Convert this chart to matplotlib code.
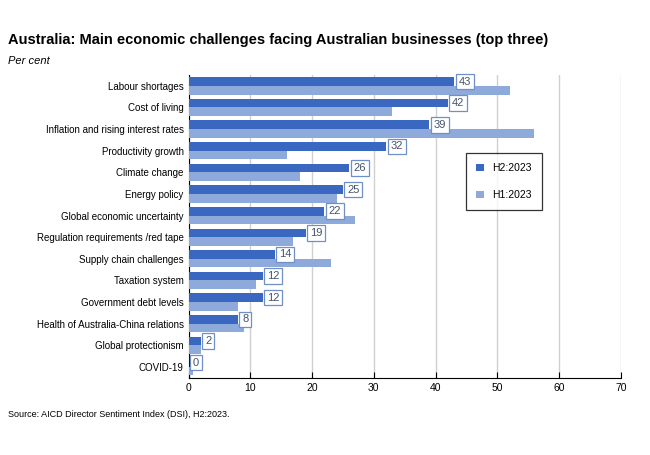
import matplotlib.pyplot as plt
import numpy as np

plt.rcParams["font.family"] = "Liberation Sans"

categories = ["Labour shortages", "Cost of living", "Inflation and rising interest rates",
              "Productivity growth", "Climate change", "Energy policy",
              "Global economic uncertainty", "Regulation requirements /red tape",
              "Supply chain challenges", "Taxation system", "Government debt levels",
              "Health of Australia-China relations", "Global protectionism", "COVID-19"]
h2_2023 = [43, 42, 39, 32, 26, 25, 22, 19, 14, 12, 12, 8, 2, 0]
h1_2023 = [52, 33, 56, 16, 18, 24, 27, 17, 23, 11, 8, 9, 2, 0.8]

dark = "#3a68c0"
light = "#8eaadb"

fig = plt.figure(figsize=(6.5, 4.55), dpi=100)
ax = fig.add_axes([0.29, 0.17, 0.665, 0.665])

y = np.arange(len(categories))
bh = 0.4
ax.barh(y - bh / 2, h2_2023, height=bh, color=dark, label="H2:2023", zorder=3)
ax.barh(y + bh / 2, h1_2023, height=bh, color=light, label="H1:2023", zorder=3)

for yi, v in zip(y, h2_2023):
    ax.text(v + 0.7, yi - bh / 2, str(v), va="center", ha="left", fontsize=8, color="#44546a",
            bbox=dict(boxstyle="square,pad=0.25", fc="white", ec="#6f8fc8", lw=0.9), zorder=4)

ax.set_ylim(len(categories) - 0.5, -0.5)
ax.set_xlim(0, 70)
ax.set_xticks(range(0, 71, 10))
ax.set_yticks(y)
ax.set_yticklabels(categories, fontsize=7)
ax.tick_params(axis="x", labelsize=7.5, direction="in", length=4)
ax.tick_params(axis="y", direction="in", length=3)
ax.xaxis.grid(True, color="#d0d0d0", lw=1, zorder=0)
for s in ["top", "right"]:
    ax.spines[s].set_visible(False)
ax.spines["left"].set_color("black")
ax.spines["bottom"].set_color("black")

leg = ax.legend(loc="upper left", bbox_to_anchor=(0.63, 0.76), fontsize=7.5, frameon=True,
                fancybox=False, edgecolor="black", handlelength=0.7, handleheight=0.7,
                labelspacing=1.6, borderpad=1.0)
leg.get_frame().set_linewidth(0.9)

fig.text(0.012, 0.912, "Australia: Main economic challenges facing Australian businesses (top three)",
         fontsize=10.5, fontweight="bold", ha="left", va="center")
fig.text(0.012, 0.867, "Per cent", fontsize=8, style="italic", ha="left", va="center")
fig.text(0.012, 0.09, "Source: AICD Director Sentiment Index (DSI), H2:2023.", fontsize=6.5,
         ha="left", va="center")

fig.savefig("out.png", dpi=100)
